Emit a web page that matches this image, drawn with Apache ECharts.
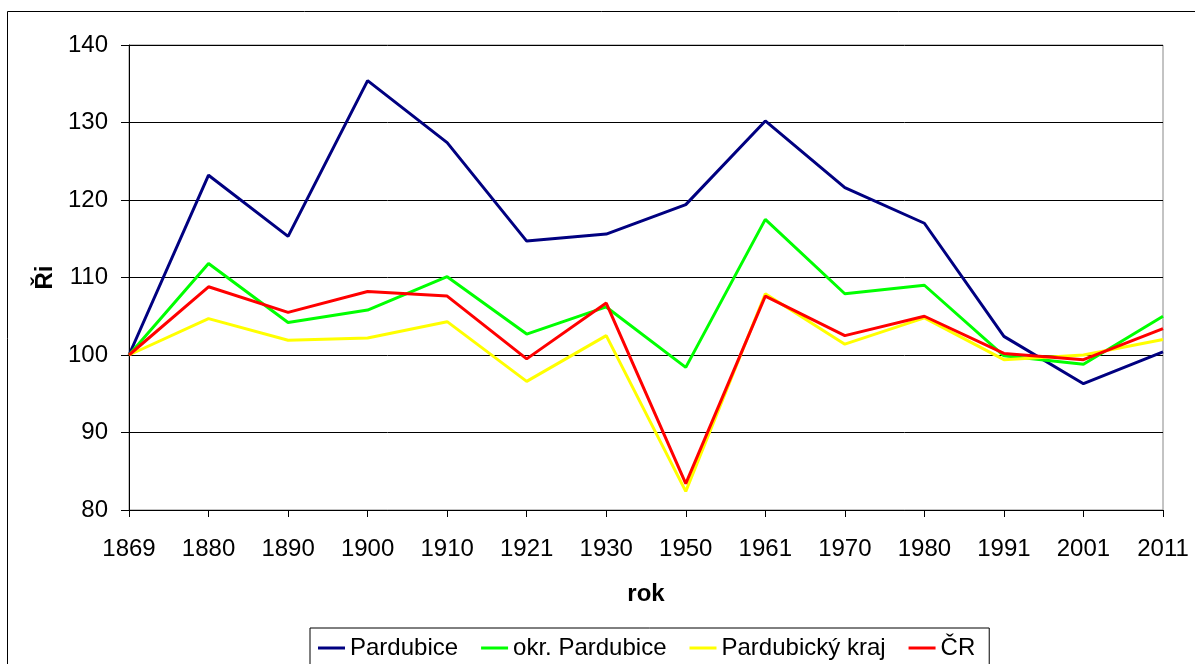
<!DOCTYPE html>
<html>
<head>
<meta charset="utf-8">
<script src="https://cdn.jsdelivr.net/npm/echarts@6/dist/echarts.min.js"></script>
<style>
  html, body { margin: 0; padding: 0; background: #fff; }
  #chart { width: 1195px; height: 664px; }
</style>
</head>
<body>
<div id="chart"></div>
<script>
// years (categories)
var years = ["1869", "1880", "1890", "1900", "1910", "1921", "1930", "1950", "1961", "1970", "1980", "1991", "2001", "2011"];

// index values
var pardubice = [100, 123.2, 115.3, 135.4, 127.4, 114.7, 115.6, 119.4, 130.2, 121.6, 117.0, 102.4, 96.3, 100.4];
var okrPardubice = [100, 111.8, 104.2, 105.8, 110.1, 102.7, 106.2, 98.4, 117.5, 107.9, 109.0, 99.9, 98.8, 105.0];
var pardubickyKraj = [100, 104.7, 101.9, 102.2, 104.3, 96.6, 102.5, 82.4, 107.9, 101.4, 104.8, 99.4, 100.0, 102.0];
var cr = [100, 108.8, 105.5, 108.2, 107.6, 99.5, 106.7, 83.4, 107.6, 102.5, 105.0, 100.2, 99.4, 103.4];

var font = "Liberation Sans, Arial, sans-serif";

function lineSeries(name, data, color) {
    return {
        name: name,
        type: "line",
        data: data,
        showSymbol: false,
        symbol: "none",
        lineStyle: { color: color, width: 3 },
        itemStyle: { color: color }
    };
}

var chart = echarts.init(document.getElementById("chart"), null, { renderer: "canvas" });

var options = {
    animation: false,
    backgroundColor: "#fff",
    textStyle: { fontFamily: font },
    grid: {
        left: 129, right: 32, top: 45, bottom: 154, containLabel: false,
        show: true, borderColor: "#888", borderWidth: 1, backgroundColor: "transparent"
    },
    graphic: [
        {
            // outer chart frame (right and bottom sides run off the picture)
            type: "rect",
            shape: { x: 7.5, y: 11.5, width: 1200, height: 700 },
            style: { fill: "none", stroke: "#000", lineWidth: 1 },
            silent: true
        }
    ],
    xAxis: {
        type: "category",
        data: years,
        boundaryGap: false,
        name: "rok",
        nameLocation: "middle",
        nameGap: 72,
        nameTextStyle: { fontFamily: font, fontSize: 24, fontWeight: "bold", color: "#000" },
        axisLine: { lineStyle: { color: "#000", width: 1 } },
        axisTick: { show: true, length: 7, inside: false, alignWithLabel: true, lineStyle: { color: "#000" } },
        axisLabel: { color: "#000", fontSize: 24, fontFamily: font, margin: 27 },
        splitLine: { show: false }
    },
    yAxis: {
        type: "value",
        min: 80,
        max: 140,
        interval: 10,
        name: "Ři",
        nameLocation: "middle",
        nameGap: 72,
        nameRotate: 90,
        nameTextStyle: { fontFamily: font, fontSize: 24, fontWeight: "bold", color: "#000" },
        axisLine: { show: true, lineStyle: { color: "#000", width: 1 } },
        axisTick: { show: true, length: 8, lineStyle: { color: "#000" } },
        axisLabel: { color: "#000", fontSize: 24, fontFamily: font, margin: 21 },
        splitLine: { show: true, lineStyle: { color: "#000", width: 1 } }
    },
    legend: {
        left: 310,
        top: 628,
        orient: "horizontal",
        borderColor: "#000",
        borderWidth: 1,
        padding: [8, 14, 20, 8],
        itemGap: 23,
        itemWidth: 27,
        itemHeight: 3,
        icon: "rect",
        textStyle: { fontFamily: font, fontSize: 24, color: "#000" },
        data: ["Pardubice", "okr. Pardubice", "Pardubický kraj", "ČR"]
    },
    series: [
        lineSeries("Pardubice", pardubice, "#000080"),
        lineSeries("okr. Pardubice", okrPardubice, "#00ff00"),
        lineSeries("Pardubický kraj", pardubickyKraj, "#ffff00"),
        lineSeries("ČR", cr, "#ff0000")
    ]
};

chart.setOption(options);
</script>
</body>
</html>
